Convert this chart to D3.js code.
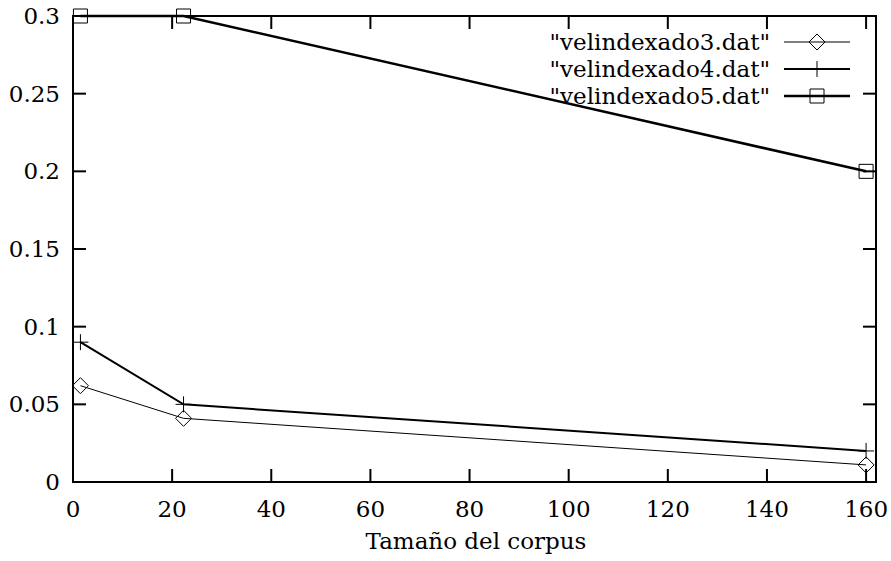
<!DOCTYPE html>
<html>
<head>
<meta charset="utf-8">
<script src="https://cdn.jsdelivr.net/npm/d3@7"></script>
<style>
  body { margin: 0; background: #fff; }
</style>
</head>
<body>
<div id="graph"></div>
<script>
'use strict';

// corpus sizes (x) and times (y)
let corpusSizes = [1.5, 22.3, 160];
let vel3 = [0.062, 0.041, 0.011];
let vel4 = [0.09, 0.05, 0.02];
let vel5 = [0.3, 0.3, 0.2];
let seriesNames = ['"velindexado3.dat"', '"velindexado4.dat"', '"velindexado5.dat"'];
let xTicks = [0, 20, 40, 60, 80, 100, 120, 140, 160];
let yTicks = [0, 0.05, 0.1, 0.15, 0.2, 0.25, 0.3];

let w = 891, h = 561;
let fontFamily = "'DejaVu Serif', serif";
let fontSize = 23;
let margin = {left: 73, right: 891 - 876, top: 16, bottom: 561 - 482};
let svg = d3.select('#graph').append('svg').attr('width', w).attr('height', h)
    .attr('font-family', fontFamily).attr('font-size', fontSize);

let x = d3.scaleLinear().domain([0, 162]).range([margin.left, w - margin.right]);
let y = d3.scaleLinear().domain([0, 0.3]).range([h - margin.bottom, margin.top]);

let fmtY = function(d){ return d === 0 ? '0' : String(+d.toFixed(2)); };

// ticks (inward, mirrored on all four sides)
let tickLen = 13;
let g = svg.append('g').attr('stroke', '#000').attr('stroke-width', 2);
xTicks.forEach(function(t){
    g.append('line').attr('x1', x(t)).attr('x2', x(t)).attr('y1', y(0)).attr('y2', y(0) - tickLen);
    g.append('line').attr('x1', x(t)).attr('x2', x(t)).attr('y1', y(0.3)).attr('y2', y(0.3) + tickLen);
});
yTicks.forEach(function(t){
    g.append('line').attr('x1', x(0)).attr('x2', x(0) + tickLen).attr('y1', y(t)).attr('y2', y(t));
    g.append('line').attr('x1', x(162)).attr('x2', x(162) - tickLen).attr('y1', y(t)).attr('y2', y(t));
});

// tick labels
svg.append('g').selectAll('text').data(xTicks).enter().append('text')
    .attr('x', function(d){ return x(d); })
    .attr('y', 517)
    .attr('text-anchor', 'middle')
    .text(function(d){ return d; });
svg.append('g').selectAll('text').data(yTicks).enter().append('text')
    .attr('x', 60)
    .attr('y', function(d){ return y(d) + 8; })
    .attr('text-anchor', 'end')
    .text(fmtY);

svg.append('text').attr('x', 476).attr('y', 549).attr('text-anchor', 'middle')
    .text('Tamaño del corpus');

let series = [
    {name: seriesNames[0], values: vel3, width: 1, marker: 'diamond'},
    {name: seriesNames[1], values: vel4, width: 2, marker: 'plus'},
    {name: seriesNames[2], values: vel5, width: 2.5, marker: 'square'}
];

let line = d3.line().x(function(d){ return x(d[0]); }).y(function(d){ return y(d[1]); });

function drawMarker(sel, type, cx, cy){
    let m = sel.append('path').attr('fill', 'none').attr('stroke', '#000').attr('stroke-width', 1);
    if (type === 'diamond') {
        m.attr('d', `M${cx},${cy-8}L${cx+8},${cy}L${cx},${cy+8}L${cx-8},${cy}Z`);
    } else if (type === 'plus') {
        m.attr('d', `M${cx-8},${cy}H${cx+8}M${cx},${cy-8}V${cy+8}`);
    } else {
        m.attr('d', `M${cx-7},${cy-7}H${cx+7}V${cy+7}H${cx-7}Z`);
    }
}

// legend rows
let legendY = [42, 69, 96];

series.forEach(function(s, i){
    let pts = corpusSizes.map(function(c, j){ return [c, s.values[j]]; });
    svg.append('path').datum(pts).attr('d', line)
        .attr('fill', 'none').attr('stroke', '#000').attr('stroke-width', s.width);
    let mg = svg.append('g');
    pts.forEach(function(p){ drawMarker(mg, s.marker, x(p[0]), y(p[1])); });

    // legend
    svg.append('text').attr('x', 770).attr('y', legendY[i] + 8).attr('text-anchor', 'end')
        .text(s.name);
    svg.append('line').attr('x1', 784).attr('x2', 850).attr('y1', legendY[i]).attr('y2', legendY[i])
        .attr('stroke', '#000').attr('stroke-width', s.width);
    drawMarker(svg, s.marker, 817, legendY[i]);
});

// border
svg.append('rect').attr('x', x(0)).attr('y', y(0.3))
    .attr('width', x(162) - x(0)).attr('height', y(0) - y(0.3))
    .attr('fill', 'none').attr('stroke', '#000').attr('stroke-width', 2);
</script>
</body>
</html>
